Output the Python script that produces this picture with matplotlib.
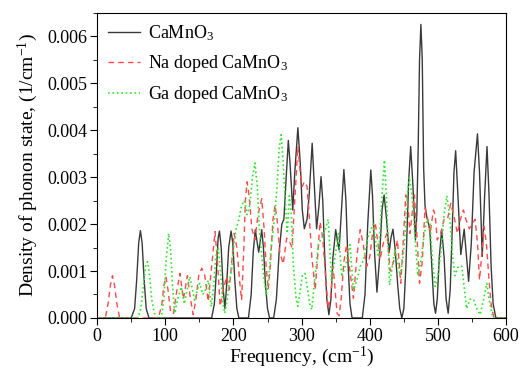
import numpy as np
import matplotlib
matplotlib.use("Agg")
import matplotlib.pyplot as plt
from matplotlib.ticker import MultipleLocator, FormatStrFormatter

# points (frequency in cm^-1, DOS in 1/cm^-1)
ca_x = [0, 50, 55, 58, 61, 63.5, 66, 69, 72, 76,
        168, 172, 175, 177.5, 179.5, 182, 185, 187.5, 190, 193, 196.5, 199, 202, 205, 208,
        222, 226, 229, 232, 235, 237, 239, 241.5, 244, 247, 250, 253,
        259, 263, 267, 271, 274, 277, 280.5, 283, 287, 290, 294.5, 298, 301, 304, 308, 311,
        315.5, 318, 322, 325.5, 328.5, 331, 334, 337, 340, 343, 346, 350, 353, 355, 358, 362,
        365, 368, 371, 374,
        389, 393, 397, 401.5, 404, 407, 410.5, 414, 418, 421, 424, 428.5, 431, 434, 437, 441,
        444, 447, 450, 453, 457, 460, 463, 467, 469, 471, 473, 475, 477, 479, 481, 483.5, 488,
        491, 494, 496.5, 499, 502, 505.5, 509, 512, 515, 518, 521, 523.5, 526, 529, 533.5,
        538.5, 542, 545, 549, 553, 558, 561, 565, 568.5, 572, 575, 578, 581, 585, 600]
ca_y = [0, 0, 0.0002, 0.0008, 0.0016, 0.00186, 0.0016, 0.0008, 0.0002, 0,
        0, 0.0003, 0.001, 0.0017, 0.00185, 0.0015, 0.0006, 0.0002, 0.0007, 0.0015, 0.00185, 0.0016, 0.0008, 0.0002, 0,
        0, 0.0005, 0.0014, 0.00188, 0.0016, 0.0014, 0.0016, 0.00188, 0.0015, 0.0007, 0.0002, 0,
        0, 0.0004, 0.0014, 0.002, 0.0021, 0.0029, 0.00378, 0.0033, 0.0023, 0.0031, 0.00405, 0.0033, 0.0023, 0.0019, 0.0021, 0.0026,
        0.00372, 0.003, 0.0019, 0.0024, 0.00301, 0.0025, 0.0013, 0.0004, 0.00007, 0.0004, 0.0013, 0.00188, 0.0016, 0.00145, 0.0022, 0.00316,
        0.0025, 0.0012, 0.0003, 0,
        0, 0.0005, 0.002, 0.00315, 0.0026, 0.0014, 0.00055, 0.0012, 0.0023, 0.00262, 0.0022, 0.0014, 0.0017, 0.00189, 0.0015, 0.0007,
        0.0002, 0, 0.0002, 0.0011, 0.0029, 0.00365, 0.0029, 0.00166, 0.0022, 0.0036, 0.0055, 0.00625, 0.0055, 0.0032, 0.0024, 0.00216, 0.0019,
        0.0011, 0.0003, 0.0001, 0.0004, 0.0013, 0.00188, 0.0013, 0.0004, 0.0001, 0.0006, 0.0019, 0.0031, 0.00356, 0.0027, 0.00135,
        0.00189, 0.0013, 0.00078, 0.0016, 0.0031, 0.00392, 0.0031, 0.00131, 0.0026, 0.00365, 0.0026, 0.0011, 0.0003, 0, 0]

na_x = [0, 12, 16, 19.5, 22.5, 25.5, 29, 33,
        90, 95, 98, 101, 104, 108, 112, 116, 121.5, 126.5, 132.5, 137, 141, 145, 149, 153.5, 158,
        163, 168, 173, 176.5, 180.5, 185, 190, 194, 197, 201, 205, 209, 212, 215, 217.5, 220, 223,
        227, 231.5, 236, 241.5, 245, 248, 251, 254, 258, 261, 264, 268, 273, 278, 283, 286, 290,
        294.5, 298, 301, 304, 308, 311, 315, 320, 323, 327, 331, 335, 339, 343, 346, 348, 352, 355,
        358, 362, 366, 370, 376, 381, 386, 390, 395.5, 400, 404, 408, 411, 415, 420, 425, 430, 435,
        440.5, 445.5, 449, 452.8, 456, 459, 462, 465.5, 469, 473, 477, 481, 485, 488.5, 493.4, 496,
        499, 504, 509, 514, 518.8, 523, 528.6, 533, 537.4, 541, 546, 550, 554.5, 558, 561, 564,
        567.7, 571, 575, 578, 582, 600]
na_y = [0, 0, 0.0003, 0.0007, 0.0009, 0.0007, 0.0003, 0,
        0, 0.0003, 0.0007, 0.00088, 0.0006, 0.0001, 0.0001, 0.0005, 0.00095, 0.0004, 0.0009, 0.0004, 0.00007, 0.0004, 0.0009, 0.00106, 0.0009,
        0.00035, 0.0011, 0.00184, 0.0012, 0.00025, 0.0006, 0.00088, 0.0006, 0.0011, 0.0018, 0.0015, 0.0008, 0.00038, 0.0014, 0.0025, 0.0029, 0.0026,
        0.0019, 0.00166, 0.0022, 0.00254, 0.0019, 0.0011, 0.0006, 0.0011, 0.0021, 0.0024, 0.0021, 0.0014, 0.00115, 0.0017, 0.0016, 0.0015, 0.0025,
        0.00365, 0.0031, 0.0028, 0.0029, 0.0028, 0.0022, 0.0013, 0.0006, 0.0012, 0.00205, 0.0017, 0.0009, 0.0002, 0.0005, 0.0011, 0.0008, 0.0001, 0.00005,
        0.0004, 0.0012, 0.00156, 0.0011, 0.00042, 0.0013, 0.00188, 0.0016, 0.0011, 0.0013, 0.0018, 0.00203, 0.0017, 0.00124, 0.0016, 0.0018, 0.001, 0.0012,
        0.00166, 0.00074, 0.0016, 0.00262, 0.0024, 0.0018, 0.0022, 0.00262, 0.0018, 0.00074, 0.0012, 0.00234, 0.0021, 0.0018, 0.0023, 0.0022,
        0.00166, 0.0018, 0.0021, 0.0021, 0.00244, 0.0022, 0.0018, 0.0021, 0.0023, 0.0021, 0.0019, 0.002, 0.0021, 0.0016, 0.00081, 0.0013,
        0.00195, 0.0016, 0.0008, 0.0003, 0, 0]

ga_x = [0, 60, 64, 68, 71, 74, 77, 80, 84, 88,
        94, 98, 101, 105, 108, 111, 114, 118, 123.5, 128, 132, 136, 140, 143, 147, 150.5, 155, 159,
        163, 167.5, 171, 174, 177.5, 181, 184, 187, 191, 194, 197, 201, 204, 208, 212, 216, 220,
        224, 228, 231.5, 235, 238, 241, 245, 248.5, 252, 256, 260, 264, 267, 270, 273, 276, 279,
        282, 285, 288, 292, 294.5, 298, 301, 305, 309, 312, 315, 319, 325, 330, 335, 339, 344, 349,
        354, 359, 364, 371, 376, 381, 386, 391, 397, 405, 410, 413, 417, 421.5, 425, 429, 433, 437,
        441, 444.5, 448, 452, 455, 458, 462, 466, 470.5, 475, 480, 484, 488.5, 492, 496, 500, 505,
        509, 513, 517, 521, 525, 530, 535, 539, 542, 547, 552, 557, 562, 567, 571.7, 575, 579, 582, 600]
ga_y = [0, 0, 0.0002, 0.0007, 0.0011, 0.0012, 0.0009, 0.0004, 0.0001, 0,
        0, 0.0004, 0.0012, 0.0018, 0.0014, 0.0006, 0.0001, 0.0004, 0.00066, 0.0003, 0.0006, 0.00088, 0.0006, 0.00038, 0.0006, 0.00074, 0.0005, 0.0006,
        0.0008, 0.00024, 0.0007, 0.0013, 0.0015, 0.001, 0.0004, 0.0001, 0.0004, 0.0008, 0.001, 0.0016, 0.0019, 0.0021, 0.0024, 0.0025, 0.0022,
        0.0024, 0.003, 0.0033, 0.0028, 0.0019, 0.0014, 0.0008, 0.0005, 0.0009, 0.0016, 0.0021, 0.0028, 0.0036, 0.0039, 0.0033, 0.0025, 0.0018,
        0.0026, 0.0022, 0.0011, 0.0004, 0.00025, 0.0006, 0.0009, 0.00095, 0.0006, 0.0003, 0.00018, 0.0008, 0.0016, 0.0017, 0.0019, 0.0021, 0.0008, 0.0013,
        0.0018, 0.00088, 0.0011, 0.00156, 0.0006, 0.0008, 0.0011, 0.00124, 0.0017, 0.002, 0.0015, 0.0013, 0.0024, 0.00336, 0.0024, 0.0007, 0.0011, 0.00145,
        0.0012, 0.0009, 0.0012, 0.0018, 0.0026, 0.003, 0.0026, 0.0018, 0.0009, 0.0012, 0.0018, 0.0021, 0.002, 0.0012, 0.00067, 0.0009, 0.0015,
        0.0022, 0.0026, 0.0022, 0.0014, 0.0009, 0.0011, 0.0011, 0.0006, 0.0002, 0.0004, 0.0004, 0.0002, 0.00007, 0.0004, 0.00074, 0.0004, 0.0001, 0, 0]

labels = ["CaMnO$_3$", "Na doped CaMnO$_3$", "Ga doped CaMnO$_3$"]


plt.rcParams["font.family"] = "Liberation Serif"
plt.rcParams["mathtext.fontset"] = "custom"
plt.rcParams["mathtext.rm"] = "Liberation Serif"
plt.rcParams["mathtext.it"] = "Liberation Serif:italic"

fig = plt.figure(figsize=(5.25, 3.73), dpi=100)
ax = fig.add_axes([0.185, 0.1475, 0.779, 0.8185])

ax.plot(ca_x, ca_y, "-", color="#3a3a3a", lw=1.0, label=labels[0])
ax.plot(na_x, na_y, "--", color="#ff4a4a", lw=1.0, dashes=(4, 3), label=labels[1])
ax.plot(ga_x, ga_y, ":", color="#2ee62e", lw=1.2, label=labels[2])

ax.set_xlim(0, 600)
ax.set_ylim(0, 0.0065)
ax.xaxis.set_major_locator(MultipleLocator(100))
ax.xaxis.set_minor_locator(MultipleLocator(50))
ax.yaxis.set_major_locator(MultipleLocator(0.001))
ax.yaxis.set_minor_locator(MultipleLocator(0.0005))
ax.yaxis.set_major_formatter(FormatStrFormatter("%.3f"))
ax.tick_params(which="both", direction="out", top=False, right=False, labelsize=13)
ax.tick_params(which="major", length=5, pad=2)
ax.tick_params(which="minor", length=3)

ax.set_xlabel("Frequency, (cm$^{-1}$)", fontsize=14, labelpad=0)
ax.set_ylabel("Density of phonon state, (1/cm$^{-1}$)", fontsize=14, labelpad=5)

ax.legend(loc="upper left", frameon=False, fontsize=13, handlelength=1.8,
          handletextpad=0.4, labelspacing=0.55, borderaxespad=0.2)

fig.savefig("out.png", dpi=100)
